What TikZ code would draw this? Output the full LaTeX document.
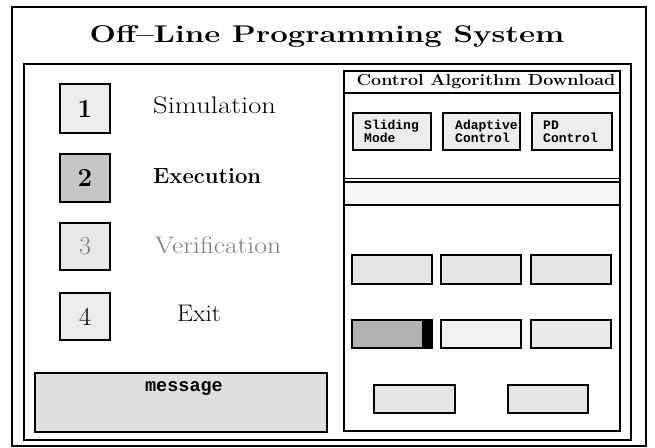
\documentclass[tikz,border=0pt]{standalone}
\usepackage{fontspec}
\setmonofont{Liberation Mono}
\usetikzlibrary{positioning}
\begin{document}
\begin{tikzpicture}[x=1pt,y=-1pt,
  frame/.style={draw=black,line width=2pt},
  numbox/.style={draw=black,line width=1.6pt},
  algbtn/.style={draw=black,line width=2pt,fill=gray!14},
  lowbtn/.style={draw=black,line width=2pt,fill=gray!20},
  menutext/.style={font=\fontsize{24}{26}\selectfont,anchor=west,inner sep=0pt},
  numtext/.style={font=\fontsize{26}{26}\selectfont\bfseries},
  btntext/.style={font=\fontsize{13}{13}\ttfamily\bfseries,align=left,anchor=west,inner sep=0pt}]
\useasboundingbox (0,0) rectangle (655,447);
\fill[white] (0,0) rectangle (655,447);
% frames
\draw[frame] (12,7) rectangle (646,446);
\draw[frame,line width=2.6pt] (24,64) rectangle (631,440);
\node[inner sep=0pt] (title) at (327,36) {\scalebox{1.355}[1.05]{\fontsize{23}{25}\selectfont\bfseries Off--Line Programming System}};
% left menu
\node[numbox,fill=gray!14,minimum width=50pt,minimum height=49pt,numtext] (b1) at (85,108.5) {1};
\node[numbox,fill=gray!45,minimum width=50pt,minimum height=48pt,numtext] (b2) at (85,178) {2};
\node[numbox,fill=gray!18,minimum width=50pt,minimum height=47pt,numtext,font=\fontsize{26}{26}\selectfont,text=gray] (b3) at (85,246.5) {3};
\node[numbox,fill=gray!14,minimum width=50pt,minimum height=47pt,numtext,font=\fontsize{26}{26}\selectfont] (b4) at (85,316.5) {4};
\node[menutext] (l1) at (153,105) {\scalebox{1.19}[1]{Simulation}};
\node[menutext,font=\fontsize{22}{24}\selectfont\bfseries] (l2) at (153,176) {Execution};
\node[menutext,text=gray] (l3) at (155,245) {\scalebox{1.15}[1]{Verification}};
\node[menutext] (l4) at (177,313) {\scalebox{1.06}[1]{Exit}};
% message
\node[draw=black,line width=2pt,fill=gray!24,minimum width=292pt,minimum height=59pt] (msg) at (180.5,402.5) {};
\node[inner sep=0pt,font=\fontsize{18.5}{18.5}\ttfamily\bfseries] (msgt) at (184,388) {message};
% right panel
\draw[frame] (344,71) rectangle (620,431);
\draw[line width=1.5pt] (344,93) -- (620,93);
\node[inner sep=0pt] (cad) at (486,82) {\scalebox{1.12}[1]{\fontsize{16}{18}\selectfont\bfseries Control Algorithm Download}};
\node[algbtn,minimum width=78pt,minimum height=37pt] (a1) at (392,131.5) {};
\node[algbtn,minimum width=77pt,minimum height=37pt] (a2) at (481.5,131.5) {};
\node[algbtn,minimum width=80pt,minimum height=37pt] (a3) at (572,131.5) {};
\node[btntext] (a1t) at (364,131.5) {Sliding\\Mode};
\node[btntext] (a2t) at (455,131.5) {Adaptive\\Control};
\node[btntext] (a3t) at (543,131.5) {PD\\Control};
\draw[line width=0.8pt] (344,178) -- (620,178);
\draw[line width=1.4pt] (344,182) -- (620,182);
\fill[gray!6] (345,183) rectangle (619,204);
\draw[line width=2pt] (344,205) -- (620,205);
% lower buttons
\node[lowbtn,minimum width=80pt,minimum height=29pt] (c1) at (392,269.5) {};
\node[lowbtn,minimum width=80pt,minimum height=29pt] (c2) at (481,269.5) {};
\node[lowbtn,minimum width=80pt,minimum height=29pt] (c3) at (571,269.5) {};
\node[lowbtn,fill=gray!60,minimum width=80pt,minimum height=28pt] (d1) at (392,334) {};
\fill[black] (422,321) rectangle (431,347);
\node[lowbtn,fill=gray!12,minimum width=80pt,minimum height=28pt] (d2) at (481,334) {};
\node[lowbtn,fill=gray!16,minimum width=80pt,minimum height=28pt] (d3) at (571,334) {};
\node[lowbtn,minimum width=81pt,minimum height=28pt] (e1) at (414.5,399) {};
\node[lowbtn,minimum width=80pt,minimum height=28pt] (e2) at (548,399) {};
\end{tikzpicture}
\end{document}
